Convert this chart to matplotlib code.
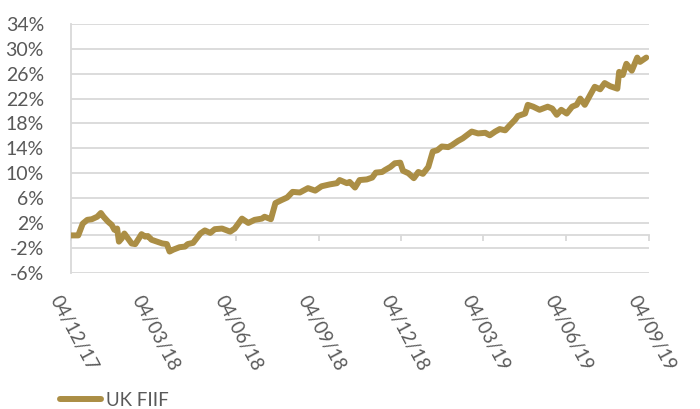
import pandas as pd
import matplotlib
matplotlib.use("Agg")
import matplotlib.pyplot as plt
import matplotlib.dates as mdates
import matplotlib.transforms as mtransforms

# ====== Datos ======
START = "2017-12-04"
# días desde el inicio
DAYS = [0, 8, 13, 18, 23, 29, 33, 36, 41, 45, 48, 51, 53, 56, 59, 63, 67, 71,
        75, 78, 82, 85, 89, 95, 101, 106, 109, 113, 120, 126, 129, 135, 143,
        148, 154, 159, 167, 176, 181, 189, 196, 203, 211, 214, 221, 226, 233,
        239, 245, 253, 262, 270, 277, 286, 294, 297, 305, 308, 314, 319, 327,
        333, 337, 344, 347, 353, 358, 364, 367, 373, 379, 384, 389, 395, 400,
        405, 410, 417, 421, 428, 433, 443, 450, 458, 463, 469, 474, 480, 485,
        491, 494, 502, 505, 511, 518, 527, 532, 537, 542, 548, 554, 559, 563,
        568, 574, 579, 585, 590, 596, 604, 606, 610, 614, 620, 626, 629, 636]
# rentabilidad acumulada [%]
UK_FIIF = [0.0, 0.0, 1.9, 2.5, 2.6, 3.0, 3.6, 3.0, 2.2, 1.7, 0.9, 1.1, -1.0,
           -0.5, 0.3, -0.5, -1.3, -1.4, -0.5, 0.2, -0.2, -0.1, -0.7, -1.0,
           -1.3, -1.4, -2.6, -2.3, -1.9, -1.8, -1.4, -1.2, 0.3, 0.8, 0.4, 1.0,
           1.1, 0.6, 1.1, 2.7, 2.0, 2.5, 2.7, 3.0, 2.6, 5.2, 5.7, 6.1, 7.0,
           6.9, 7.6, 7.2, 7.9, 8.2, 8.4, 8.9, 8.4, 8.6, 7.7, 8.9, 9.0, 9.3,
           10.1, 10.2, 10.5, 11.0, 11.6, 11.7, 10.4, 10.0, 9.2, 10.2, 9.9,
           11.0, 13.5, 13.7, 14.3, 14.2, 14.5, 15.2, 15.6, 16.7, 16.4, 16.5,
           16.1, 16.7, 17.1, 16.9, 17.7, 18.6, 19.2, 19.6, 21.0, 20.7, 20.2,
           20.7, 20.4, 19.4, 20.2, 19.6, 20.7, 21.0, 22.0, 21.0, 22.6, 23.9,
           23.5, 24.5, 24.0, 23.6, 26.3, 25.8, 27.6, 26.5, 28.6, 27.9, 28.6]

TICK_DATES = ["2017-12-04", "2018-03-04", "2018-06-04", "2018-09-04",
              "2018-12-04", "2019-03-04", "2019-06-04", "2019-09-04"]
Y_TICKS = list(range(-6, 35, 4))

LINE_COLOR = "#AB8E45"
GRID_COLOR = "#D9D9D9"
TEXT_COLOR = "#595959"

plt.rcParams["font.family"] = ["Lato", "DejaVu Sans"]

fechas = pd.Timestamp(START) + pd.to_timedelta(DAYS, unit="D")
ticks = pd.to_datetime(TICK_DATES)

fig = plt.figure(figsize=(7, 4.09), dpi=100)
ax = fig.add_axes([71 / 700, 1 - 272.7 / 409, (649 - 71) / 700, (272.7 - 24) / 409])

ax.plot(fechas, UK_FIIF, color=LINE_COLOR, lw=4.3, solid_capstyle="round",
        solid_joinstyle="round", label="UK FIIF", zorder=3)

ax.set_ylim(-6, 34)
ax.set_yticks(Y_TICKS)
ax.set_yticklabels([f"{v}%" for v in Y_TICKS])
ax.set_xlim(ticks[0], ticks[-1])
ax.set_xticks(ticks)
ax.xaxis.set_major_formatter(mdates.DateFormatter("%d/%m/%y"))

ax.grid(axis="y", color=GRID_COLOR, lw=1.3)
ax.set_axisbelow(True)
for s in ["top", "right"]:
    ax.spines[s].set_visible(False)
ax.spines["left"].set_color(GRID_COLOR)
ax.spines["left"].set_linewidth(1.3)
ax.spines["bottom"].set_position(("data", 0))
ax.spines["bottom"].set_color(GRID_COLOR)
ax.spines["bottom"].set_linewidth(1.3)

ax.tick_params(axis="y", length=0, pad=19.5, labelsize=14, labelcolor=TEXT_COLOR)
ax.tick_params(axis="x", direction="out", length=4.5, width=1.3, color=GRID_COLOR,
               pad=37, labelsize=13.5, labelcolor=TEXT_COLOR)
for lab in ax.get_xticklabels():
    lab.set_rotation(-62)
    lab.set_ha("center")
    lab.set_va("top")

# desplazar un poco las etiquetas a la derecha como en el original
offset = mtransforms.ScaledTranslation(3 / 100, 0, fig.dpi_scale_trans)
for lab in ax.get_xticklabels():
    lab.set_transform(lab.get_transform() + offset)

fig.legend(loc="center left", bbox_to_anchor=(52 / 700, 1 - 400 / 409),
           frameon=False, fontsize=13.5, handlelength=2.2, handletextpad=0.3,
           labelcolor=TEXT_COLOR, borderaxespad=0)

fig.savefig("out.png", dpi=100)
